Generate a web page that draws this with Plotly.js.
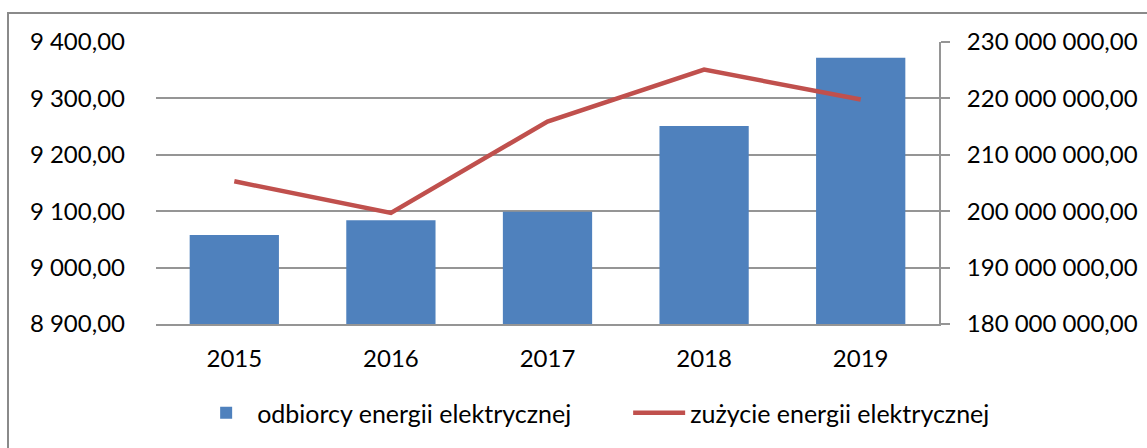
<!DOCTYPE html>
<html>
<head>
<meta charset="utf-8">
<script src="https://cdn.plot.ly/plotly-3.0.1.min.js"></script>
<style>
  html, body { margin: 0; padding: 0; background: #fff; overflow: hidden; }
  #wrap { position: relative; width: 1147px; height: 448px; }
  #frame { position: absolute; left: 7px; top: 12px; width: 1160px; height: 460px;
           border: 2px solid #8a8a8a; box-sizing: border-box; pointer-events: none; z-index: 5; }
  #chart { position: absolute; left: 0; top: 0; width: 1147px; height: 448px; }
</style>
</head>
<body>
<div id="wrap">
  <div id="chart"></div>
  <div id="frame"></div>
</div>
<script>
const years = ['2015', '2016', '2017', '2018', '2019'];
const odbiorcy = [9058, 9084, 9099, 9251, 9372];
const zuzycie = [205300000, 199700000, 215900000, 225100000, 219800000];
const leftTicks = [8900, 9000, 9100, 9200, 9300, 9400];
const rightTicks = [180000000, 190000000, 200000000, 210000000, 220000000, 230000000];
const seriesNames = ['odbiorcy energii elektrycznej', 'zużycie energii elektrycznej'];

const font = { family: 'Lato, "Open Sans", sans-serif', size: 24, color: '#000' };

const traces = [
  {
    type: 'bar', x: years, y: odbiorcy, name: seriesNames[0],
    marker: { color: '#4F81BD' }, yaxis: 'y', hoverinfo: 'none'
  },
  {
    type: 'scatter', mode: 'lines', x: years, y: zuzycie, name: seriesNames[1],
    line: { color: '#C0504D', width: 4.5 }, yaxis: 'y2', hoverinfo: 'none'
  }
];

const layout = {
  width: 1147, height: 448,
  margin: { l: 156, r: 208, t: 42, b: 124 },
  paper_bgcolor: '#fff', plot_bgcolor: '#fff',
  separators: ', ',
  font: font,
  bargap: 0.43,
  showlegend: true,
  legend: {
    orientation: 'h',
    x: 1.156, xanchor: 'right', y: -0.316, yanchor: 'middle',
    font: { family: font.family, size: 25, color: '#000' },
    itemwidth: 52, traceorder: 'normal', entrywidth: 366
  },
  xaxis: {
    type: 'category', showgrid: false, zeroline: false,
    showline: true, linecolor: '#959595', linewidth: 2,
    ticks: '', tickfont: font, ticklabelstandoff: 12
  },
  yaxis: {
    range: [8900, 9400], tickvals: leftTicks, tickformat: ',.2f',
    showgrid: true, gridcolor: '#959595', gridwidth: 2, zeroline: false,
    showline: false, ticks: '', tickfont: font, ticklabelstandoff: 30
  },
  yaxis2: {
    overlaying: 'y', side: 'right',
    range: [180000000, 230000000], tickvals: rightTicks, tickformat: ',.2f',
    showgrid: false, zeroline: false,
    showline: true, linecolor: '#959595', linewidth: 2,
    ticks: 'outside', ticklen: 9, tickwidth: 2, tickcolor: '#959595',
    tickfont: font, ticklabelstandoff: 12
  }
};

Plotly.newPlot('chart', traces, layout, { staticPlot: true, displayModeBar: false });
</script>
</body>
</html>
